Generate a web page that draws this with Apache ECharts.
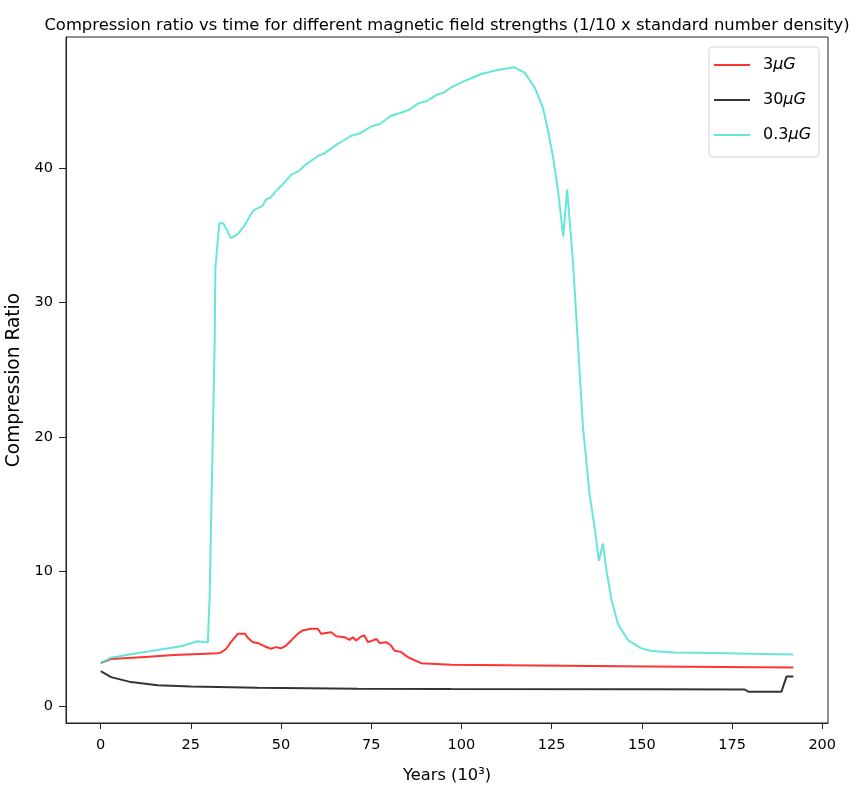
<!DOCTYPE html>
<html>
<head>
<meta charset="utf-8">
<title>Compression ratio vs time</title>
<script src="https://cdn.jsdelivr.net/npm/echarts@6/dist/echarts.min.js"></script>
<style>
    html, body { margin: 0; padding: 0; background: #fff; }
    #chart { width: 856px; height: 790px; }
</style>
</head>
<body>
<div id="chart"></div>
<script>
// years in units of 10^3
var redYears = [0, 2.9, 11.2, 20.4, 32.5, 33.4, 34.8, 36.1, 38.0, 40.0, 40.8, 42.2, 43.5, 45.4, 47.2, 48.6, 50.0, 51.4, 52.8, 54.6,
    56.0, 58.3, 60.2, 61.1, 63.9, 65.3, 67.6, 69.0, 69.9, 70.8, 72.2, 73.1, 74.1, 75.4, 76.4, 77.3, 79.1, 80.5, 81.4, 83.3,
    85.2, 88.8, 97.2, 120, 152.6, 192];
var redRatio = [3.2, 3.5, 3.64, 3.8, 3.94, 4.0, 4.27, 4.76, 5.38, 5.38, 5.08, 4.76, 4.7, 4.46, 4.27, 4.39, 4.3, 4.51, 4.88, 5.38,
    5.63, 5.75, 5.75, 5.38, 5.5, 5.2, 5.13, 4.93, 5.13, 4.88, 5.18, 5.25, 4.76, 4.88, 5.0, 4.7, 4.76, 4.51, 4.14, 4.02,
    3.64, 3.2, 3.08, 3.02, 2.95, 2.88];

var blackYears = [0, 2.9, 8.4, 15.8, 25, 43.5, 71.3, 97.2, 152.6, 178.5, 179.5, 188.7, 190.1, 192];
var blackRatio = [2.6, 2.16, 1.79, 1.56, 1.46, 1.37, 1.3, 1.28, 1.26, 1.24, 1.08, 1.08, 2.2, 2.2];

var cyanYears = [0, 2.9, 8, 14, 22.3, 26.9, 29.7, 30.2, 31.6, 31.8, 32.9, 34.0, 36.1, 38.0, 39.8, 41.7, 42.6, 44.9, 45.9, 47.1,
    48.6, 50.5, 52.8, 55.0, 56.5, 60.2, 62.0, 65.7, 67.0, 69.4, 72.0, 75.0, 77.5, 80.5, 83.0, 85.2, 87.9, 90.5, 93.5, 95.0,
    97.2, 101, 105.5, 110, 114.7, 117.5, 120.3, 122.6, 124.0, 125.4, 126.8, 128.2, 129.3, 130.9, 132.3, 133.7, 135.5, 136.9, 138.1, 139.2,
    140.2, 141.6, 143.4, 146.2, 149.9, 152.6, 159.1, 170, 180, 192];
var cyanRatio = [3.2, 3.6, 3.85, 4.1, 4.46, 4.83, 4.74, 8, 27, 32.6, 35.9, 35.9, 34.8, 35.1, 35.7, 36.6, 36.9, 37.2, 37.7, 37.8,
    38.3, 38.8, 39.5, 39.8, 40.2, 40.9, 41.1, 41.8, 42.0, 42.4, 42.6, 43.1, 43.3, 43.9, 44.1, 44.3, 44.8, 45.0, 45.5, 45.6,
    46.0, 46.5, 47.0, 47.3, 47.5, 47.1, 46.0, 44.5, 42.8, 40.8, 38.3, 34.9, 38.4, 33.1, 26.9, 20.7, 15.8, 13.3, 10.8, 12.1,
    10.1, 7.9, 6.1, 4.9, 4.3, 4.1, 4.0, 3.95, 3.9, 3.85];

var seriesNames = ['3μG', '30μG', '0.3μG'];
var xTicks = [0, 25, 50, 75, 100, 125, 150, 175, 200];
var yTicks = [0, 10, 20, 30, 40];

var FONT = 'DejaVu Sans';

function pairs(xs, ys) {
    var out = [];
    for (var i = 0; i < xs.length; ++i) {
        out.push([xs[i], ys[i]]);
    }
    return out;
}

function lineSeries(name, color, xs, ys) {
    return {
        name: name,
        type: 'line',
        symbol: 'none',
        data: pairs(xs, ys),
        lineStyle: { color: color, width: 2, opacity: 0.8 },
        itemStyle: { color: color, opacity: 0.8 }
    };
}

var chart = echarts.init(document.getElementById('chart'), null, { renderer: 'canvas' });

var option = {
    animation: false,
    backgroundColor: '#fff',
    title: {
        text: 'Compression ratio vs time for different magnetic field strengths (1/10 x standard number density)',
        left: 447,
        textAlign: 'center',
        top: 18,
        padding: 0,
        textStyle: { fontFamily: FONT, fontSize: 16.4, fontWeight: 'normal', color: '#000' }
    },
    legend: {
        orient: 'vertical',
        left: 709,
        top: 47,
        padding: [10, 8, 14, 5],
        itemGap: 19,
        itemWidth: 36,
        itemHeight: 2,
        icon: 'rect',
        borderColor: '#d4d4d4',
        borderWidth: 1,
        borderRadius: 4,
        data: seriesNames,
        formatter: function (name) {
            return name.replace('μG', '{i|μG}');
        },
        textStyle: {
            fontFamily: FONT,
            fontSize: 16,
            color: '#000',
            padding: [0, 0, 0, 8],
            rich: {
                i: { fontFamily: FONT, fontSize: 16, fontStyle: 'italic', color: '#000' }
            }
        }
    },
    grid: {
        left: 66,
        right: 28,
        top: 37,
        bottom: 67,
        show: true,
        borderColor: '#222',
        borderWidth: 1,
        containLabel: false,
        outerBoundsMode: 'none'
    },
    xAxis: {
        type: 'value',
        min: -9.6,
        max: 201.6,
        name: 'Years (10³)',
        nameLocation: 'middle',
        nameGap: 45,
        nameTextStyle: { fontFamily: FONT, fontSize: 16.3, color: '#000' },
        axisLine: { show: true, onZero: false, lineStyle: { color: '#222', width: 1 } },
        axisTick: { show: true, length: 6, customValues: xTicks, lineStyle: { color: '#222' } },
        axisLabel: { customValues: xTicks, fontFamily: FONT, fontSize: 14.5, color: '#000', margin: 15 },
        splitLine: { show: false }
    },
    yAxis: {
        type: 'value',
        min: -1.25,
        max: 49.75,
        name: 'Compression Ratio',
        nameLocation: 'middle',
        nameGap: 36,
        nameTextStyle: { fontFamily: FONT, fontSize: 18.6, color: '#000' },
        axisLine: { show: true, onZero: false, lineStyle: { color: '#222', width: 1 } },
        axisTick: { show: true, length: 7, customValues: yTicks, lineStyle: { color: '#222' } },
        axisLabel: { customValues: yTicks, fontFamily: FONT, fontSize: 14.5, color: '#000', margin: 13 },
        splitLine: { show: false }
    },
    series: [
        lineSeries(seriesNames[0], '#ff0000', redYears, redRatio),
        lineSeries(seriesNames[1], '#000000', blackYears, blackRatio),
        lineSeries(seriesNames[2], '#40e0d0', cyanYears, cyanRatio)
    ]
};

chart.setOption(option);
</script>
</body>
</html>
